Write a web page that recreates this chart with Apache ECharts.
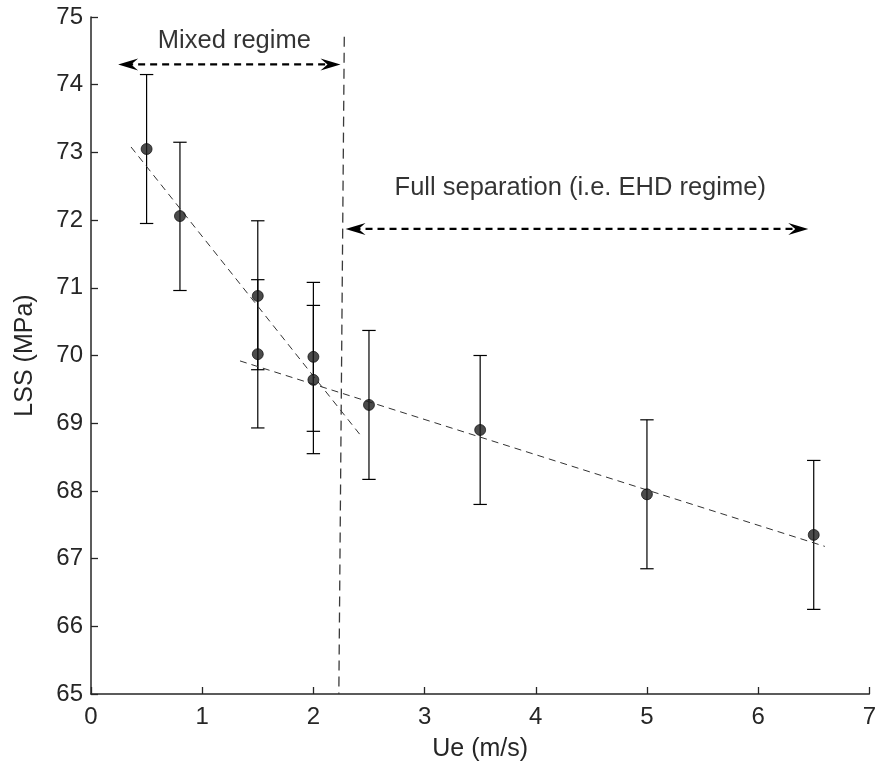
<!DOCTYPE html>
<html><head><meta charset="utf-8">
<script src="https://cdn.jsdelivr.net/npm/echarts@6/dist/echarts.min.js"></script>
<style>html,body{margin:0;padding:0;background:#fff}#c{width:879px;height:767px}</style>
</head><body><div id="c"></div>
<script>
// Data
const ue = [0.5, 0.8, 1.5, 1.5, 2.0, 2.0, 2.5, 3.5, 5.0, 6.5];
const lss = [73.05, 72.06, 70.88, 70.02, 69.98, 69.64, 69.27, 68.90, 67.95, 67.35];
const errLow = [71.95, 70.96, 69.79, 68.93, 68.88, 68.55, 68.17, 67.80, 66.85, 66.25];
const errHigh = [74.15, 73.15, 71.99, 71.12, 71.08, 70.74, 70.37, 70.00, 69.05, 68.45];
const fitMixed = [[0.36, 73.08], [2.42, 68.83]];
const fitEHD = [[1.34, 69.92], [6.60, 67.18]];
const boundary = [[2.278, 74.71], [2.229, 65.0]];
const arrowMixed = [0.244, 2.244, 74.30];
const arrowEHD = [2.289, 6.451, 71.87];
const labelMixed = [1.289, 74.65, 'Mixed regime'];
const labelEHD = [4.40, 72.47, 'Full separation (i.e. EHD regime)'];
const xTicks = [0, 7, 1];
const yTicks = [65, 75, 1];

const font = 'Liberation Sans, Arial, sans-serif';
const axisColor = '#262626';

const chart = echarts.init(document.getElementById('c'));
const errData = ue.map((x, i) => [x, errLow[i], errHigh[i]]);

function head(tip, dir) {
  const L = 20, W = 6, N = 13;
  return [
    [tip[0], tip[1]],
    [tip[0] - dir * L, tip[1] - W],
    [tip[0] - dir * N, tip[1]],
    [tip[0] - dir * L, tip[1] + W]
  ];
}

chart.setOption({
  animation: false,
  backgroundColor: '#fff',
  grid: { left: 91, right: 6, top: 17, bottom: 71 },
  xAxis: {
    type: 'value', min: xTicks[0], max: xTicks[1], interval: xTicks[2],
    name: 'Ue (m/s)', nameLocation: 'middle', nameGap: 43,
    nameTextStyle: { fontFamily: font, fontSize: 25, color: axisColor },
    axisLine: { show: true, lineStyle: { color: axisColor, width: 1.5 } },
    axisTick: { show: true, inside: true, length: 7, lineStyle: { color: axisColor, width: 1.3 } },
    axisLabel: { fontFamily: font, fontSize: 24, color: axisColor, margin: 11 },
    splitLine: { show: false }
  },
  yAxis: {
    type: 'value', min: yTicks[0], max: yTicks[1], interval: yTicks[2],
    name: 'LSS (MPa)', nameLocation: 'middle', nameGap: 53, nameRotate: 90,
    nameTextStyle: { fontFamily: font, fontSize: 25, color: axisColor },
    axisLine: { show: true, lineStyle: { color: axisColor, width: 1.5 } },
    axisTick: { show: true, inside: true, length: 7, lineStyle: { color: axisColor, width: 1.3 } },
    axisLabel: { fontFamily: font, fontSize: 24, color: axisColor, margin: 8 },
    splitLine: { show: false }
  },
  series: [
    {
      type: 'line', data: fitMixed, symbol: 'none', silent: true,
      lineStyle: { color: '#333', width: 1, type: [7, 5] }
    },
    {
      type: 'line', data: fitEHD, symbol: 'none', silent: true,
      lineStyle: { color: '#333', width: 1, type: [7, 5] }
    },
    {
      type: 'line', data: boundary, symbol: 'none', silent: true,
      lineStyle: { color: '#3a3a3a', width: 1.3, type: [10, 6] }
    },
    {
      type: 'custom', silent: true, data: errData,
      renderItem: function (params, api) {
        const x = api.value(0);
        const lo = api.coord([x, api.value(1)]);
        const hi = api.coord([x, api.value(2)]);
        const hw = 6.7;
        const st = { stroke: '#000', lineWidth: 1.2 };
        return {
          type: 'group', children: [
            { type: 'line', shape: { x1: lo[0], y1: lo[1], x2: hi[0], y2: hi[1] }, style: st },
            { type: 'line', shape: { x1: lo[0] - hw, y1: lo[1], x2: lo[0] + hw, y2: lo[1] }, style: st },
            { type: 'line', shape: { x1: hi[0] - hw, y1: hi[1], x2: hi[0] + hw, y2: hi[1] }, style: st }
          ]
        };
      }
    },
    {
      type: 'scatter', data: ue.map((x, i) => [x, lss[i]]), symbol: 'circle', symbolSize: 11,
      itemStyle: { color: '#1e1e1e', borderColor: '#000', borderWidth: 0.8 }, z: 5
    },
    {
      type: 'custom', silent: true, data: [arrowMixed, arrowEHD], z: 6,
      renderItem: function (params, api) {
        const a = api.coord([api.value(0), api.value(2)]);
        const b = api.coord([api.value(1), api.value(2)]);
        return {
          type: 'group', children: [
            { type: 'line', shape: { x1: a[0] + 8, y1: a[1], x2: b[0] - 8, y2: b[1] },
              style: { stroke: '#000', lineWidth: 2.3, lineDash: [7, 5] } },
            { type: 'polygon', shape: { points: head(a, -1) }, style: { fill: '#000' } },
            { type: 'polygon', shape: { points: head(b, 1) }, style: { fill: '#000' } }
          ]
        };
      }
    },
    {
      type: 'scatter', symbolSize: 0, silent: true,
      data: [labelMixed, labelEHD],
      label: {
        show: true, position: 'inside', formatter: p => p.value[2],
        fontFamily: font, fontSize: 25.5, color: '#000'
      }
    }
  ]
});
</script></body></html>
